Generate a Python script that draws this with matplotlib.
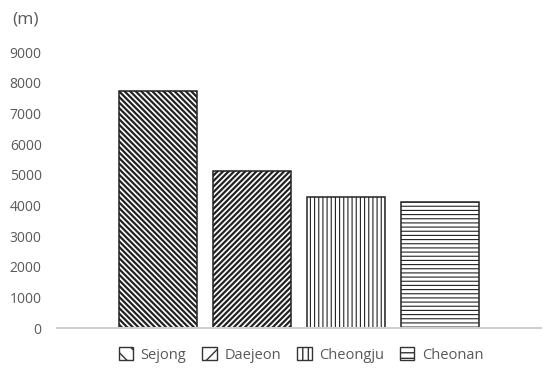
import matplotlib.pyplot as plt
import matplotlib as mpl
from matplotlib.patches import Patch

# === Datos ===
ciudades = ["Sejong", "Daejeon", "Cheongju", "Cheonan"]
valores = [7730, 5120, 4270, 4110]
tramas = ["\\" * 6, "/" * 6, "||||", "----"]
tramas_leyenda = ["\\\\", "//", "|||", "---"]
grosor_trama = [1.6, 1.6, 0.8, 0.8]
ticks_y = [0, 1000, 2000, 3000, 4000, 5000, 6000, 7000, 8000, 9000]

texto_gris = "#595959"
plt.rcParams['font.family'] = ['Open Sans', 'DejaVu Sans']

fig = plt.figure(figsize=(5.5, 3.74), dpi=100)
ax = fig.add_axes([57/550, 1 - 328/374, 484/550, 276/374])

handles = []
for i, (c, v) in enumerate(zip(ciudades, valores)):
    with mpl.rc_context({'hatch.linewidth': grosor_trama[i]}):
        ax.bar(i, v, width=0.83, color="white", edgecolor="#222222",
               hatch=tramas[i], linewidth=1.1, zorder=2)
        handles.append(Patch(facecolor="white", edgecolor="#333333",
                             hatch=tramas_leyenda[i], linewidth=1.0, label=c))

ax.set_xlim(-1.074, 4.074)
ax.set_ylim(0, 9000)
ax.set_yticks(ticks_y)
ax.set_yticklabels([str(t) for t in ticks_y])
ax.set_xticks([])
ax.tick_params(axis='y', length=0, pad=11, labelsize=10, labelcolor=texto_gris)

for lado in ["top", "right", "left"]:
    ax.spines[lado].set_visible(False)
ax.spines["bottom"].set_color("#d0d0d0")
ax.spines["bottom"].set_linewidth(1.5)

fig.text(12/550, 1 - 19/374, "(m)", fontsize=12.5, color=texto_gris,
         ha="left", va="center")

fig.legend(handles=handles, loc="center", bbox_to_anchor=(301/550, 1 - 355/374),
           ncol=4, frameon=False, fontsize=10.5, labelcolor=texto_gris,
           handlelength=1.0, handleheight=1.0, handletextpad=0.5,
           columnspacing=1.1)

fig.savefig("out.png", dpi=100)
